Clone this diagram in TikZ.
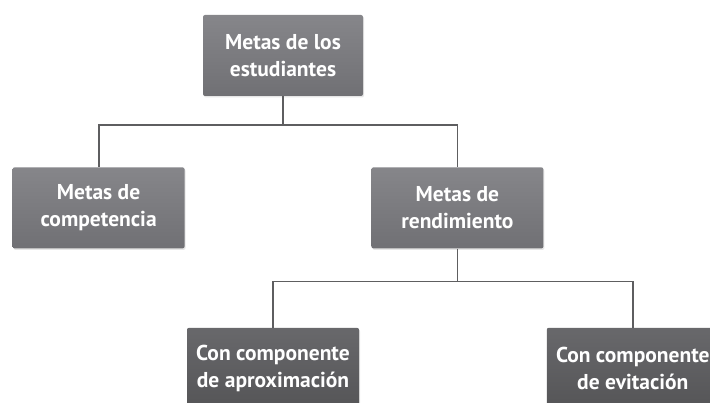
\documentclass[tikz,border=0pt]{standalone}
\usepackage{fontspec}
\setmainfont{PT Sans}
\usetikzlibrary{positioning,shadows}
\definecolor{BoxTop}{HTML}{86868A}
\definecolor{BoxBot}{HTML}{707074}
\definecolor{DarkTop}{HTML}{68686B}
\definecolor{DarkBot}{HTML}{555557}
\definecolor{LinkGray}{HTML}{5E5E60}
\tikzset{
  goal/.style={
    rounded corners=2pt, top color=BoxTop, bottom color=BoxBot,
    text=white, minimum width=172pt, minimum height=81pt, align=center,
    font=\fontsize{21.5}{27}\selectfont\bfseries,
    drop shadow={opacity=0.2, shadow xshift=1pt, shadow yshift=-1.5pt}
  },
  subgoal/.style={
    goal, top color=DarkTop, bottom color=DarkBot
  },
  link/.style={draw=LinkGray, line width=1.8pt}
}

\begin{document}
\begin{tikzpicture}
        \useasboundingbox (0,0) rectangle (710pt,-403pt);
        \node[goal,minimum width=160pt] (metas) at (283pt,-55.5pt) {Metas de los\\estudiantes};
        \node[goal,below left=71pt and 18pt of metas] (comp) {Metas de\\competencia};
        \node[goal,below right=71pt and 8pt of metas] (rend) {Metas de\\rendimiento};
        \node[subgoal,below left=79pt and 12pt of rend] (aprox) {Con componente\\de aproximación};
        \node[subgoal,below right=79pt and 3pt of rend] (evit) {Con componente\\de evitación};
        \draw[link] (metas.south) -- ++(0,-29pt) coordinate (j1) -| (comp.north);
        \draw[link] (j1) -| (rend.north);
        \draw[link] (rend.south) -- ++(0,-33pt) coordinate (j2) -| (aprox.north);
        \draw[link] (j2) -| (evit.north);
      \end{tikzpicture}
\end{document}
